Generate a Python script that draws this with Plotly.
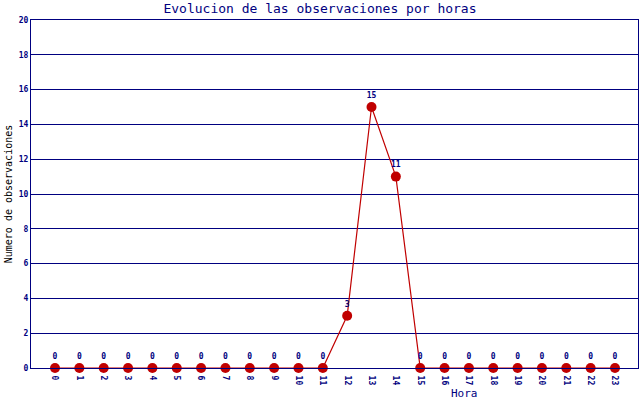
import plotly.graph_objects as go

# observaciones por hora
horas = list(range(24))
observaciones = [0, 0, 0, 0, 0, 0, 0, 0, 0, 0, 0, 0, 3, 15, 11, 0, 0, 0, 0, 0, 0, 0, 0, 0]
y_ticks = [0, 2, 4, 6, 8, 10, 12, 14, 16, 18, 20]

NAVY = "#000080"
RED = "#c00000"
MONO = "DejaVu Sans Mono"

fig = go.Figure()
fig.add_trace(go.Scatter(
    x=horas,
    y=observaciones,
    mode="lines+markers+text",
    line=dict(color=RED, width=1.2),
    marker=dict(color=RED, size=10),
    text=[str(v) for v in observaciones],
    textposition="top center",
    textfont=dict(family=MONO, size=8, color=NAVY, weight="bold"),
    cliponaxis=False,
    showlegend=False,
))

fig.update_layout(
    width=640,
    height=400,
    margin=dict(l=31, r=2, t=20, b=32, autoexpand=False),
    paper_bgcolor="white",
    plot_bgcolor="white",
    title=dict(
        text="Evolucion de las observaciones por horas",
        x=0.5, xanchor="center", y=0.978, yanchor="middle",
        font=dict(family=MONO, size=13, color=NAVY),
    ),
    xaxis=dict(
        range=[-0.986, 23.945],
        tickvals=horas,
        ticktext=[str(h) for h in horas],
        tickangle=90,
        tickfont=dict(family=MONO, size=8, color=NAVY, weight="bold"),
        ticklabelstandoff=5,
        automargin=False,
        showgrid=False,
        zeroline=False,
        showline=True,
        linecolor=NAVY,
        linewidth=1,
        mirror=True,
        ticks="",
    ),
    yaxis=dict(
        range=[0, 20],
        tickvals=y_ticks,
        ticktext=[str(v) for v in y_ticks],
        tickfont=dict(family=MONO, size=8, color=NAVY, weight="bold"),
        automargin=False,
        showgrid=True,
        gridcolor=NAVY,
        gridwidth=1,
        zeroline=False,
        showline=True,
        linecolor=NAVY,
        linewidth=1,
        mirror=True,
        ticks="",
        title=dict(text="Numero de observaciones", standoff=4,
                   font=dict(family=MONO, size=10, color="black")),
    ),
    annotations=[dict(
        text="Hora", x=(480 - 31) / 607, xref="paper",
        y=0, yref="paper", yanchor="middle", yshift=-25, showarrow=False,
        font=dict(family=MONO, size=11, color=NAVY),
    )],
)

# the page body has a default 8px margin; drop it so the chart sits at 0,0
fig.write_html("out.html", config={"displayModeBar": False},
               post_script="document.body.style.margin='0';")
